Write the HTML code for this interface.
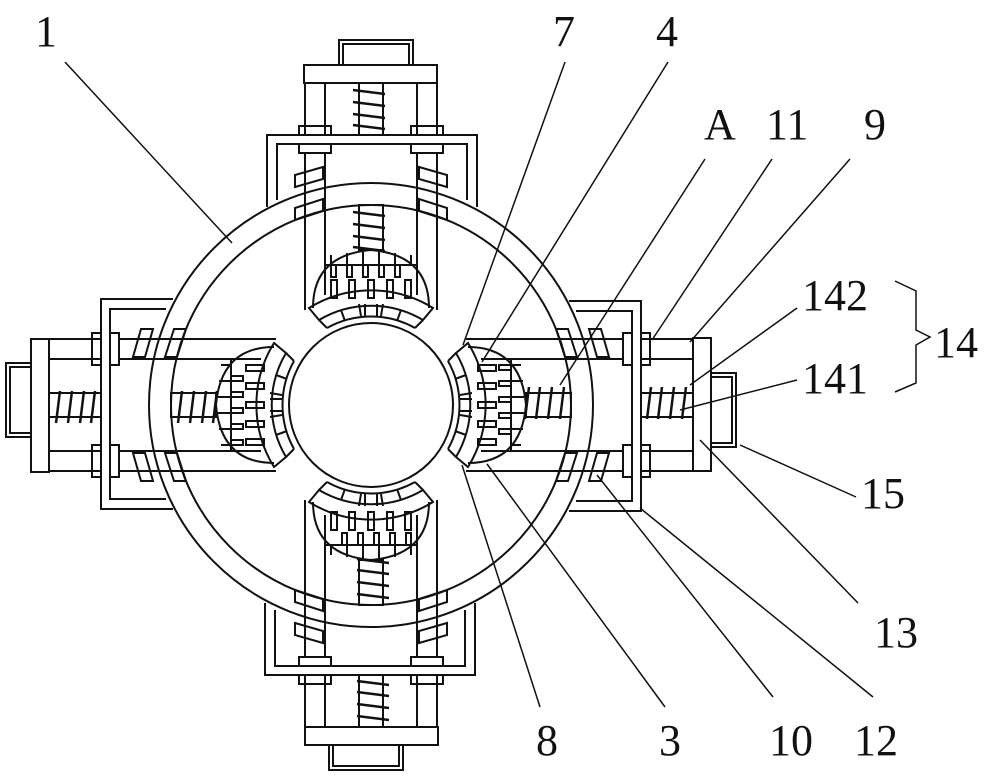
<!DOCTYPE html>
<html><head><meta charset="utf-8"><style>
html,body{margin:0;padding:0;background:#fff;}
svg{display:block;}
text{font-family:"Liberation Serif",serif;font-size:44px;fill:#111;}
</style></head><body>
<svg width="1000" height="780" viewBox="0 0 1000 780" xmlns="http://www.w3.org/2000/svg">
<defs>
<g id="arm" fill="none" stroke="#111" stroke-width="2">
  <!-- cap -->
  <rect x="-32" y="-365" width="74" height="25"/>
  <rect x="-28" y="-361" width="66" height="21"/>
  <!-- block -->
  <rect x="-67" y="-340" width="133" height="18"/>
  <!-- columns outer -->
  <rect x="-66" y="-322" width="20" height="52"/>
  <rect x="46" y="-322" width="20" height="52"/>
  <rect x="-72" y="-279" width="32" height="9"/>
  <rect x="40" y="-279" width="32" height="9"/>
  <rect x="-72" y="-261" width="32" height="9"/>
  <rect x="40" y="-261" width="32" height="9"/>
  <!-- outer spring -->
  <rect x="-12" y="-322" width="24" height="52"/>
  <path d="M-18,-315 L14,-311 M-18,-303 L14,-299 M-18,-291 L14,-287 M-18,-280 L14,-276" stroke-width="2.5"/>
  <!-- frame -->
  <path d="M-104,-198 L-104,-270 L106,-270 L106,-198"/>
  <path d="M-94,-205 L-94,-261 L96,-261 L96,-205"/>
  <!-- columns inside -->
  <path d="M-66,-252 L-66,-95 M-46,-252 L-46,-110 M46,-252 L46,-110 M66,-252 L66,-95"/>
  <!-- pads at ring -->
  <path d="M-76,-218 L-48,-226 L-48,-238 L-76,-230 Z"/>
  <path d="M76,-218 L48,-226 L48,-238 L76,-230 Z"/>
  <path d="M-76,-185 L-48,-194 L-48,-206 L-76,-197 Z"/>
  <path d="M76,-185 L48,-194 L48,-206 L76,-197 Z"/>
  <!-- inner spring -->
  <rect x="-12" y="-200" width="24" height="45"/>
  <path d="M-18,-193 L14,-189 M-18,-181 L14,-177 M-18,-169 L14,-165 M-18,-158 L14,-154" stroke-width="2.5"/>
  <!-- clamp dome -->
  <path d="M-58,-97 Q-58,-150 0,-155 Q58,-150 58,-97"/>
  <path d="M-47,-140 L47,-140"/>
  <path d="M-40,-140 v-10 M-24,-140 v-12 M-8,-140 v-13 M8,-140 v-13 M24,-140 v-12 M40,-140 v-10"/>
  <path d="M-40,-140 v12 h5 v-12 M-24,-140 v12 h5 v-12 M-8,-140 v12 h5 v-12 M8,-140 v12 h5 v-12 M24,-140 v12 h5 v-12"/>
  <rect x="-40" y="-125" width="6" height="18"/><rect x="-22" y="-125" width="6" height="18"/>
  <rect x="-3" y="-125" width="6" height="18"/><rect x="16" y="-125" width="6" height="18"/>
  <rect x="34" y="-125" width="6" height="18"/>
  <!-- pad (concentric) -->
  <path d="M-62,-97 A118,118 0 0 1 62,-97 L52,-85 A102,102 0 0 0 -52,-85 Z"/>
  <path d="M-44,-77 A90,90 0 0 1 44,-77 M-52,-85 L-44,-77 M52,-85 L44,-77"/>
  <path d="M-30,-95 L-26,-84 M-12,-101 L-10,-89 M12,-101 L10,-89 M30,-95 L26,-84 M-6,-101 L-6,-89 M6,-101 L6,-89"/>
</g>
</defs>

<g fill="none" stroke="#111" stroke-width="2">
  <circle cx="371" cy="405" r="222"/>
  <circle cx="371" cy="405" r="200"/>
  <circle cx="371" cy="405" r="82"/>
</g>

<use href="#arm" transform="translate(371,405)"/>
<use href="#arm" transform="translate(371,405) rotate(180)"/>
<use href="#arm" transform="translate(371,405) rotate(-90)"/>
<use href="#arm" transform="translate(371,405) rotate(90)"/>

<!-- leaders -->
<g stroke="#111" stroke-width="1.5" fill="none">
  <path d="M65,62 L232,243"/>
  <path d="M565,62 L463,345"/>
  <path d="M668,62 L482,362"/>
  <path d="M705,159 L560,385"/>
  <path d="M772,159 L652,340"/>
  <path d="M850,159 L690,342"/>
  <path d="M797,308 L690,385"/>
  <path d="M797,380 L680,410"/>
  <path d="M895,281 L916,291 L916,330 L930,337 L916,345 L916,383 L895,392"/>
  <path d="M856,497 L740,445"/>
  <path d="M858,603 L700,440"/>
  <path d="M540,707 L462,465"/>
  <path d="M665,707 L487,464"/>
  <path d="M773,697 L597,475"/>
  <path d="M873,697 L640,508"/>
</g>

<g>
  <text x="35" y="46">1</text>
  <text x="553" y="46">7</text>
  <text x="656" y="46">4</text>
  <text x="704" y="139">A</text>
  <text x="766" y="139">11</text>
  <text x="864" y="139">9</text>
  <text x="802" y="310">142</text>
  <text x="934" y="357">14</text>
  <text x="802" y="393">141</text>
  <text x="861" y="508">15</text>
  <text x="874" y="647">13</text>
  <text x="536" y="755">8</text>
  <text x="659" y="755">3</text>
  <text x="769" y="755">10</text>
  <text x="854" y="755">12</text>
</g>
</svg>
</body></html>
